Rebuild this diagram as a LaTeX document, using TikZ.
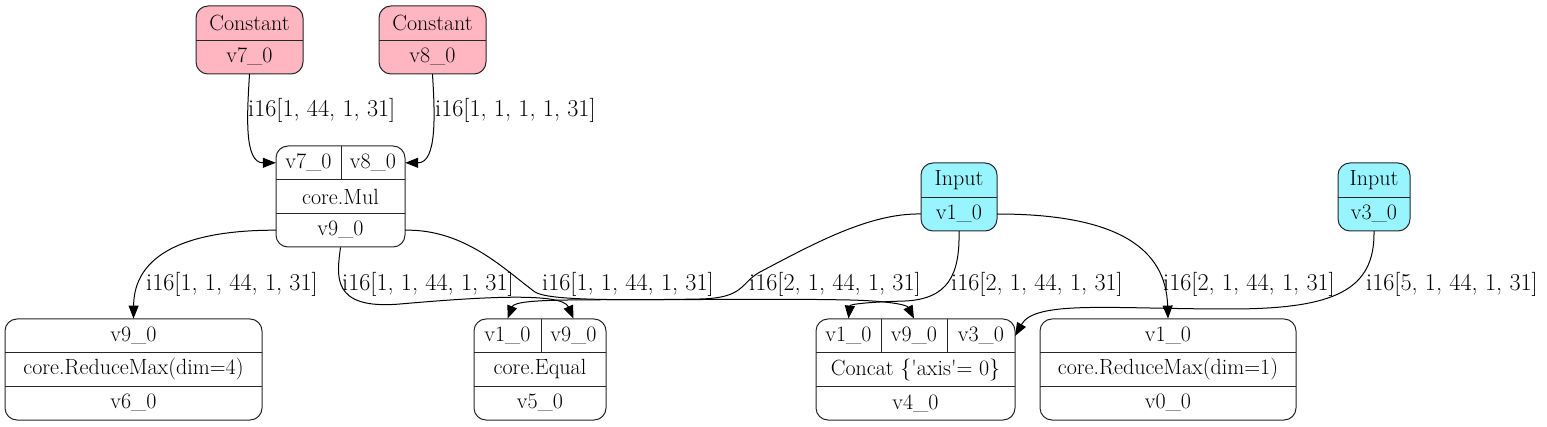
\documentclass[tikz,border=0pt]{standalone}
\usetikzlibrary{arrows.meta}
\definecolor{constpink}{RGB}{255,182,193}
\definecolor{inputcyan}{RGB}{152,245,255}
\tikzset{
  rec/.style={draw=black!85, line width=1pt, rounded corners=12pt, inner sep=0pt},
  cell/.style={inner sep=0pt, minimum height=34pt},
  sep/.style={draw=black!85, line width=1pt},
  lbl/.style={anchor=west, inner sep=0pt, font=\fontsize{24.2}{29}\selectfont},
  edge/.style={line width=1pt, -{Triangle[length=13pt,width=10pt]}},
}
\begin{document}
\begin{tikzpicture}[x=1pt,y=-1pt,font=\fontsize{22}{26}\selectfont]
	\useasboundingbox (0,0) rectangle (1547,427);

	% record boxes
	\node[rec,fill=constpink,minimum width=107pt,minimum height=68pt] (c7) at (249.5,40) {};
	\node[rec,fill=constpink,minimum width=107pt,minimum height=68pt] (c8) at (432.5,40) {};
	\node[rec,minimum width=129pt,minimum height=101pt] (mul) at (340.5,196.5) {};
	\node[rec,fill=inputcyan,minimum width=76pt,minimum height=68pt] (in1) at (959,197) {};
	\node[rec,fill=inputcyan,minimum width=72pt,minimum height=68pt] (in3) at (1374,197) {};
	\node[rec,minimum width=257pt,minimum height=101pt] (rm4) at (133.5,369.5) {};
	\node[rec,minimum width=132pt,minimum height=101pt] (eq) at (540,369.5) {};
	\node[rec,minimum width=199pt,minimum height=101pt] (cc) at (915.5,369.5) {};
	\node[rec,minimum width=256pt,minimum height=101pt] (rm1) at (1168,369.5) {};

	% cells
	\node[cell,minimum width=107pt] (c7a) at (249.5,23) {Constant};
	\node[cell,minimum width=107pt] (c7b) at (249.5,57) {v7\_0};
	\node[cell,minimum width=107pt] (c8a) at (432.5,23) {Constant};
	\node[cell,minimum width=107pt] (c8b) at (432.5,57) {v8\_0};

	\node[cell,minimum width=65pt] (mul7) at (308.5,162.8) {v7\_0};
	\node[cell,minimum width=64pt] (mul8) at (373,162.8) {v8\_0};
	\node[cell,minimum width=129pt] (mulop) at (340.5,196.5) {core.Mul};
	\node[cell,minimum width=129pt] (mul9) at (340.5,230.2) {v9\_0};

	\node[cell,minimum width=76pt] (in1a) at (959,180) {Input};
	\node[cell,minimum width=76pt] (in1b) at (959,214) {v1\_0};
	\node[cell,minimum width=72pt] (in3a) at (1374,180) {Input};
	\node[cell,minimum width=72pt] (in3b) at (1374,214) {v3\_0};

	\node[cell,minimum width=257pt] (rm4a) at (133.5,335.8) {v9\_0};
	\node[cell,minimum width=257pt] (rm4op) at (133.5,369.5) {core.ReduceMax(dim=4)};
	\node[cell,minimum width=257pt] (rm4b) at (133.5,403.2) {v6\_0};

	\node[cell,minimum width=67pt] (eq1) at (507.5,335.8) {v1\_0};
	\node[cell,minimum width=65pt] (eq9) at (573.5,335.8) {v9\_0};
	\node[cell,minimum width=132pt] (eqop) at (540,369.5) {core.Equal};
	\node[cell,minimum width=132pt] (eqb) at (540,403.2) {v5\_0};

	\node[cell,minimum width=65pt] (cc1) at (848.5,335.8) {v1\_0};
	\node[cell,minimum width=66pt] (cc9) at (914,335.8) {v9\_0};
	\node[cell,minimum width=68pt] (cc3) at (981,335.8) {v3\_0};
	\node[cell,minimum width=199pt] (ccop) at (915.5,369.5) {Concat \{\textquotesingle axis\textquotesingle= 0\}};
	\node[cell,minimum width=199pt] (ccb) at (915.5,403.2) {v4\_0};

	\node[cell,minimum width=256pt] (rm1a) at (1168,335.8) {v1\_0};
	\node[cell,minimum width=256pt] (rm1op) at (1168,369.5) {core.ReduceMax(dim=1)};
	\node[cell,minimum width=256pt] (rm1b) at (1168,403.2) {v0\_0};

	% dividers
	\draw[sep] (c7a.south west) -- (c7a.south east);
	\draw[sep] (c8a.south west) -- (c8a.south east);
	\draw[sep] (in1a.south west) -- (in1a.south east);
	\draw[sep] (in3a.south west) -- (in3a.south east);
	\draw[sep] (mulop.north west) -- (mulop.north east);
	\draw[sep] (mulop.south west) -- (mulop.south east);
	\draw[sep] (mul7.north east) -- (mul7.south east);
	\draw[sep] (rm4op.north west) -- (rm4op.north east);
	\draw[sep] (rm4op.south west) -- (rm4op.south east);
	\draw[sep] (eqop.north west) -- (eqop.north east);
	\draw[sep] (eqop.south west) -- (eqop.south east);
	\draw[sep] (eq1.north east) -- (eq1.south east);
	\draw[sep] (ccop.north west) -- (ccop.north east);
	\draw[sep] (ccop.south west) -- (ccop.south east);
	\draw[sep] (cc1.north east) -- (cc1.south east);
	\draw[sep] (cc9.north east) -- (cc9.south east);
	\draw[sep] (rm1op.north west) -- (rm1op.north east);
	\draw[sep] (rm1op.south west) -- (rm1op.south east);

	% edges
	\draw[edge] (c7b.south) .. controls (247,115) and (244,162.8) .. (mul7.west);
	\draw[edge] (c8b.south) .. controls (435,115) and (437,162.8) .. (mul8.east);
	\draw[edge] (mul9.west) .. controls (185,230) and (134,255) .. (rm4a.north);
	\draw[edge] (mul9.south) .. controls (337,275) and (330,310) .. (400,304)
		.. controls (480,297) and (562,292) .. (eq9.north);
	\draw[edge] (mul9.east) .. controls (465,229) and (505,270) .. (535,292)
		.. controls (555,305) and (700,297) .. (850,300)
		.. controls (890,301) and (907,305) .. (cc9.north);
	\draw[edge] (in1b.west) .. controls (870,213) and (815,243) .. (760,272)
		.. controls (740,283) and (745,298) .. (700,299)
		.. controls (600,301) and (516,297) .. (eq1.north);
	\draw[edge] (in1b.south) .. controls (960,275) and (948,299) .. (905,301)
		.. controls (870,302) and (850,304) .. (cc1.north);
	\draw[edge] (in1b.east) .. controls (1120,214) and (1166,250) .. (rm1a.north);
	\draw[edge] (in3b.south) .. controls (1375,290) and (1335,309) .. (1230,309)
		.. controls (1110,309) and (1035,300) .. (cc3.east);

	% edge labels
	\node[lbl] (l1) at (248,110) {i16[1, 44, 1, 31]};
	\node[lbl] (l2) at (435,110) {i16[1, 1, 1, 1, 31]};
	\node[lbl] (l3) at (146,284) {i16[1, 1, 44, 1, 31]};
	\node[lbl] (l4) at (342,284) {i16[1, 1, 44, 1, 31]};
	\node[lbl] (l5) at (542,284) {i16[1, 1, 44, 1, 31]};
	\node[lbl] (l6) at (749,284) {i16[2, 1, 44, 1, 31]};
	\node[lbl] (l7) at (951,284) {i16[2, 1, 44, 1, 31]};
	\node[lbl] (l8) at (1163,284) {i16[2, 1, 44, 1, 31]};
	\node[lbl] (l9) at (1366,284) {i16[5, 1, 44, 1, 31]};
\end{tikzpicture}
\end{document}
